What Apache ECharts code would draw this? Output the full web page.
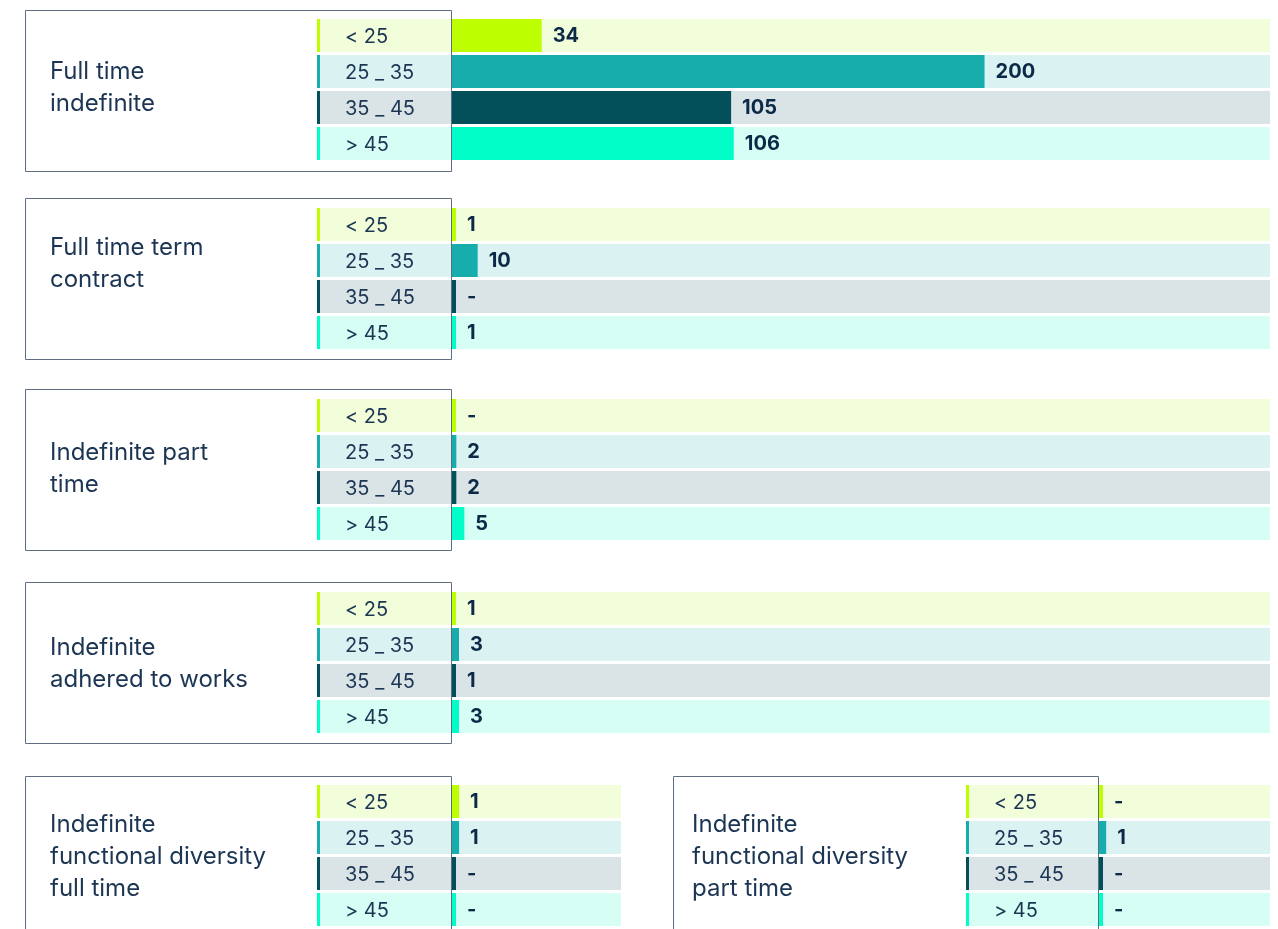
<!DOCTYPE html>
<html>
<head>
<meta charset="utf-8">
<title>Contracts by age band</title>
<script src="https://cdn.jsdelivr.net/npm/echarts@6/dist/echarts.min.js"></script>
<style>
html, body { margin: 0; padding: 0; background: #fff; }
#main { width: 1278px; height: 929px; }
</style>
</head>
<body>
<div id="main"></div>
<script>
var ageBands = ['< 25', '25 _ 35', '35 _ 45', '> 45'];
var contractTypes = [
    'Full time\nindefinite',
    'Full time term\ncontract',
    'Indefinite part\ntime',
    'Indefinite\nadhered to works',
    'Indefinite\nfunctional diversity\nfull time',
    'Indefinite\nfunctional diversity\npart time'
];
var fullTimeIndefinite = [34, 200, 105, 106];
var fullTimeTerm = [1, 10, 0, 1];
var indefinitePartTime = [0, 2, 2, 5];
var adheredToWorks = [1, 3, 1, 3];
var diversityFullTime = [1, 1, 0, 0];
var diversityPartTime = [0, 1, 0, 0];
var groupValues = [fullTimeIndefinite, fullTimeTerm, indefinitePartTime,
    adheredToWorks, diversityFullTime, diversityPartTime];

var barColors = ['#bdff00', '#16adac', '#03505a', '#00ffc8'];
var rowColors = ['#f2fdd9', '#dbf2f3', '#dae4e6', '#d7fef5'];
var textColor = '#1b3553';
var valueColor = '#0c2a48';
var fontFamily = 'Inter, "Noto Sans", sans-serif';

// where each block sits: framed box, title, bar area
var blocks = [
    {box: [25, 10, 426, 161],  titleX: 50,  titleY: 56,  top: 17.5,  left: 451,  right: 1270, labelW: 134, max: 307},
    {box: [25, 198, 426, 161], titleX: 50,  titleY: 232, top: 206.5, left: 451,  right: 1270, labelW: 134, max: 307},
    {box: [25, 389, 426, 161], titleX: 50,  titleY: 437, top: 397.5, left: 451,  right: 1270, labelW: 134, max: 307},
    {box: [25, 582, 426, 161], titleX: 50,  titleY: 632, top: 590.5, left: 451,  right: 1270, labelW: 134, max: 307},
    {box: [25, 776, 426, 161], titleX: 50,  titleY: 809, top: 783.5, left: 451,  right: 621,  labelW: 134, max: 21},
    {box: [673, 776, 425, 161], titleX: 692, titleY: 809, top: 783.5, left: 1098, right: 1270, labelW: 132, max: 21}
];

var titles = [], grids = [], xAxes = [], yAxes = [], series = [], boxes = [];

blocks.forEach(function (b, g) {
    titles.push({
        text: contractTypes[g],
        left: b.titleX,
        top: b.titleY,
        padding: 0,
        textStyle: {fontSize: 24, fontWeight: 'normal', lineHeight: 32, color: textColor, fontFamily: fontFamily}
    });
    grids.push({left: b.left, top: b.top, width: b.right - b.left, height: 144});
    xAxes.push({gridIndex: g, type: 'value', min: 0, max: b.max, show: false});

    // coloured stripe + pale box behind each age band label
    var labelRich = {};
    for (var r = 0; r < ageBands.length; r++) {
        labelRich['s' + r] = {width: 3, height: 33, lineHeight: 33, align: 'left', backgroundColor: barColors[r]};
        labelRich['t' + r] = {
            width: b.labelW - 3 - 25, height: 31, lineHeight: 31, align: 'left',
            padding: [2, 0, 0, 25],
            backgroundColor: rowColors[r], color: textColor,
            fontSize: 20, fontFamily: fontFamily
        };
    }
    yAxes.push({
        gridIndex: g,
        type: 'category',
        inverse: true,
        data: ageBands,
        axisLine: {show: false},
        axisTick: {show: false},
        axisLabel: {
            interval: 0,
            margin: 0,
            formatter: function (val, idx) {
                return '{s' + idx + '|}{t' + idx + '|' + val + '}';
            },
            rich: labelRich
        }
    });

    // pale row behind each bar
    series.push({
        type: 'bar',
        xAxisIndex: g,
        yAxisIndex: g,
        silent: true,
        barWidth: 33,
        barGap: '-100%',
        z: 1,
        data: ageBands.map(function (a, i) {
            return {value: b.max, itemStyle: {color: rowColors[i]}};
        })
    });
    series.push({
        type: 'bar',
        name: contractTypes[g],
        xAxisIndex: g,
        yAxisIndex: g,
        barWidth: 33,
        barGap: '-100%',
        barMinHeight: 5,
        z: 2,
        data: groupValues[g].map(function (v, i) {
            return {value: v, itemStyle: {color: barColors[i]}};
        }),
        label: {
            show: true,
            position: 'right',
            distance: 11,
            color: valueColor,
            fontSize: 20,
            fontWeight: 'bold',
            fontFamily: fontFamily,
            formatter: function (p) {
                return p.value === 0 ? '-' : p.value;
            }
        }
    });

    boxes.push({
        type: 'rect',
        z: 100,
        silent: true,
        shape: {x: b.box[0] + 0.5, y: b.box[1] + 0.5, width: b.box[2], height: b.box[3]},
        style: {fill: 'none', stroke: '#5e6e80', lineWidth: 1}
    });
});

var myChart = echarts.init(document.getElementById('main'));
var option = {
    animation: false,
    textStyle: {fontFamily: fontFamily},
    title: titles,
    grid: grids,
    xAxis: xAxes,
    yAxis: yAxes,
    series: series,
    graphic: boxes
};
myChart.setOption(option);
</script>
</body>
</html>
